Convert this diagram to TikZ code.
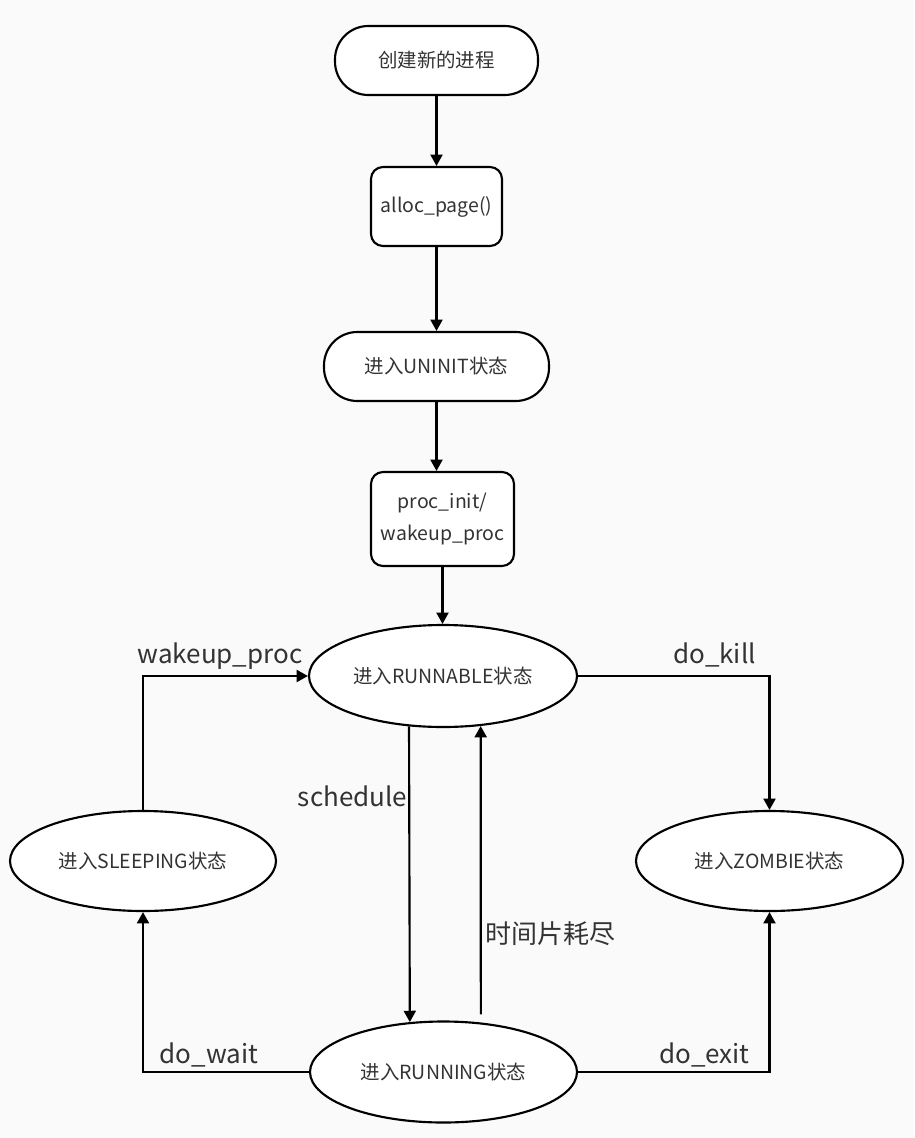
\documentclass[tikz,border=0pt]{standalone}
\usepackage{fontspec}
\setmainfont{Noto Sans CJK SC}
\usetikzlibrary{arrows.meta,shapes.geometric,calc}
\definecolor{bg}{HTML}{FAFAFA}
\definecolor{txt}{HTML}{333333}

\begin{document}
\begin{tikzpicture}[x=0.75pt,y=-0.75pt,
  every node/.style={text=txt},
  nodefont/.style={font=\fontsize{14.6}{24}\selectfont},
  labelfont/.style={font=\fontsize{19.5}{22}\selectfont},
  stadium/.style={draw=black, line width=1.6pt, fill=white, rounded corners=25pt,
    minimum width=#1, minimum height=51.75pt, inner sep=0pt, nodefont},
  roundbox/.style={draw=black, line width=1.6pt, fill=white, rounded corners=9pt,
    inner sep=0pt, nodefont, align=center},
  state/.style={ellipse, draw=black, line width=1.6pt, fill=white,
    inner sep=0pt, nodefont},
  arr/.style={line width=1.6pt, draw=black, -{Triangle[length=8.5pt,width=9pt]}},
  edgelabel/.style={labelfont, inner sep=0pt, anchor=base}
]
% page background
\fill[bg] (0,0) rectangle (914,1138);
\useasboundingbox (0,0) rectangle (914,1138);

% creation chain
\node[stadium=152.25pt] (start) at (436.5,60.5) {创建新的进程};
\node[roundbox, minimum width=98.25pt, minimum height=59.25pt] (alloc) at (436.5,206.5) {alloc\_page()};
\node[stadium=168.75pt] (uninit) at (436.5,366.5) {进入UNINIT状态};
\node[roundbox, minimum width=107.25pt, minimum height=70.5pt] (procinit) at (442.5,519) {proc\_init/\\wakeup\_proc};

% process states
\node[state, minimum width=201pt, minimum height=76.5pt] (runnable) at (443,676) {进入RUNNABLE状态};
\node[state, minimum width=199.5pt, minimum height=75pt] (sleeping) at (143,861) {进入SLEEPING状态};
\node[state, minimum width=200.25pt, minimum height=75pt] (zombie) at (769.5,861) {进入ZOMBIE状态};
\node[state, minimum width=200.25pt, minimum height=75.75pt] (running) at (443.5,1072) {进入RUNNING状态};

% creation arrows
\draw[arr] (start) -- (alloc);
\draw[arr] (alloc) -- (uninit);
\draw[arr] (uninit) -- (uninit |- procinit.north);
\draw[arr] (procinit) -- (procinit.south |- runnable.north);

% transitions
\draw[arr] (sleeping.north) |- (runnable.west);
\draw[arr] (runnable.east) -| (zombie.north);
\draw[arr] (runnable.236.3) -- (running.124.4);
\draw[arr, shorten <=6pt] (running.53.9) -- (runnable.-53.75);
\draw[arr] (running.west) -| (sleeping.south);
\draw[arr] (running.east) -| (zombie.south);

% transition labels
\node[edgelabel] (lwake) at (220,663) {wakeup\_proc};
\node[edgelabel] (lkill) at (714.5,663) {do\_kill};
\node[edgelabel] (lsched) at (352.5,806) {schedule};
\node[labelfont, inner sep=0pt] (lslice) at (550.5,934) {时间片耗尽};
\node[edgelabel] (lwait) at (209,1063) {do\_wait};
\node[edgelabel] (lexit) at (704.5,1063) {do\_exit};
\end{tikzpicture}
\end{document}
